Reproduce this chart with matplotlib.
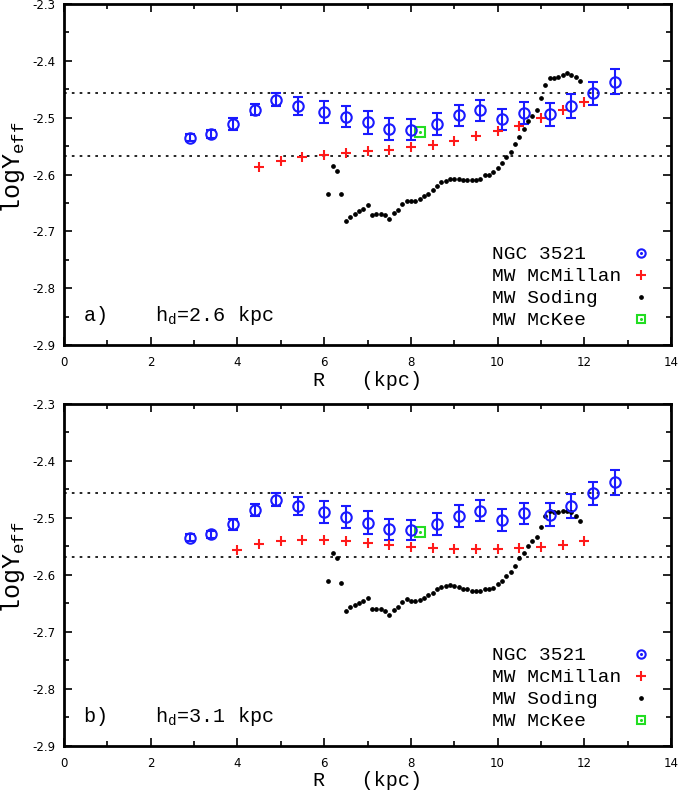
import numpy as np
import matplotlib
matplotlib.use('Agg')
import matplotlib.pyplot as plt

plt.rcParams['mathtext.fontset'] = 'custom'
plt.rcParams['mathtext.rm'] = 'Liberation Mono'
plt.rcParams['axes.unicode_minus'] = False

## Datos de NGC 3521 (iguales en los dos paneles)
r_ngc = [2.9, 3.4, 3.9, 4.4, 4.9, 5.4, 6.0, 6.5, 7.0, 7.5,
         8.0, 8.6, 9.1, 9.6, 10.1, 10.6, 11.2, 11.7, 12.2, 12.7]
y_ngc = [-2.535, -2.529, -2.511, -2.486, -2.468, -2.479, -2.490, -2.498, -2.508, -2.520,
         -2.521, -2.511, -2.496, -2.487, -2.503, -2.492, -2.494, -2.479, -2.457, -2.437]
e_ngc = [0.006, 0.007, 0.010, 0.010, 0.011, 0.016, 0.019, 0.019, 0.020, 0.019,
         0.018, 0.019, 0.019, 0.019, 0.019, 0.019, 0.020, 0.021, 0.020, 0.022]

# MW McKee
r_mckee = [8.2]
y_mckee = [-2.525]

# MW McMillan, panel a) y b)
r_mcm_a = [4.5, 5.0, 5.5, 6.0, 6.5, 7.0, 7.5, 8.0, 8.5, 9.0, 9.5, 10.0, 10.5, 11.0, 11.5, 12.0]
y_mcm_a = [-2.587, -2.577, -2.570, -2.565, -2.562, -2.559, -2.556, -2.552, -2.548, -2.541,
           -2.533, -2.524, -2.514, -2.501, -2.487, -2.472]
r_mcm_b = [4.0, 4.5, 5.0, 5.5, 6.0, 6.5, 7.0, 7.5, 8.0, 8.5, 9.0, 9.5, 10.0, 10.5, 11.0, 11.5, 12.0]
y_mcm_b = [-2.557, -2.546, -2.540, -2.538, -2.538, -2.541, -2.544, -2.547, -2.551, -2.553,
           -2.554, -2.554, -2.554, -2.552, -2.551, -2.547, -2.541]

# MW Soding, panel a) y b)
r_sod = [6.1, 6.2, 6.3, 6.4, 6.5, 6.6, 6.7, 6.8, 6.9, 7.0,
         7.1, 7.2, 7.3, 7.4, 7.5, 7.6, 7.7, 7.8, 7.9, 8.0,
         8.1, 8.2, 8.3, 8.4, 8.5, 8.6, 8.7, 8.8, 8.9, 9.0,
         9.1, 9.2, 9.3, 9.4, 9.5, 9.6, 9.7, 9.8, 9.9, 10.0,
         10.1, 10.2, 10.3, 10.4, 10.5, 10.6, 10.7, 10.8, 10.9, 11.0,
         11.1, 11.2, 11.3, 11.4, 11.5, 11.6, 11.7, 11.8, 11.9]
y_sod_a = [-2.635, -2.585, -2.594, -2.635, -2.681, -2.675, -2.670, -2.665, -2.661, -2.654,
           -2.672, -2.670, -2.670, -2.671, -2.678, -2.667, -2.662, -2.652, -2.647, -2.647,
           -2.647, -2.643, -2.638, -2.634, -2.628, -2.620, -2.614, -2.611, -2.608, -2.608,
           -2.608, -2.610, -2.610, -2.610, -2.610, -2.608, -2.601, -2.601, -2.596, -2.588,
           -2.579, -2.570, -2.560, -2.547, -2.534, -2.520, -2.506, -2.497, -2.487, -2.465,
           -2.443, -2.431, -2.431, -2.429, -2.425, -2.422, -2.424, -2.428, -2.435]
y_sod_b = [-2.611, -2.561, -2.570, -2.614, -2.663, -2.657, -2.653, -2.649, -2.646, -2.640,
           -2.659, -2.659, -2.659, -2.663, -2.670, -2.661, -2.656, -2.648, -2.643, -2.645,
           -2.645, -2.644, -2.640, -2.635, -2.632, -2.625, -2.621, -2.619, -2.618, -2.619,
           -2.621, -2.624, -2.625, -2.628, -2.628, -2.628, -2.624, -2.625, -2.622, -2.616,
           -2.610, -2.601, -2.594, -2.584, -2.571, -2.561, -2.550, -2.540, -2.534, -2.516,
           -2.496, -2.488, -2.490, -2.490, -2.488, -2.487, -2.490, -2.496, -2.505]

# Lineas punteadas horizontales
y_lineas = [-2.456, -2.568]

nombres = ['NGC 3521', 'MW McMillan', 'MW Soding', 'MW McKee']
etiquetas = [r'a)    $\mathrm{h}_\mathrm{d}$=2.6 kpc', r'b)    $\mathrm{h}_\mathrm{d}$=3.1 kpc']

AZUL = '#1a1aff'
ROJO = '#ff1a1a'
VERDE = '#22dd22'
MONO = 'Liberation Mono'


# Dibuja la leyenda con el texto alineado a la izquierda y el simbolo a la derecha.
def leyenda(ax):
    filas = [0.269, 0.205, 0.141, 0.077]
    xt, xm = 0.7046, 0.950
    estilos = [dict(marker='o', ms=6, mfc='none', mec=AZUL, mew=1.5),
               dict(marker='+', ms=7, mec=ROJO, mew=1.5),
               dict(marker='o', ms=2.4, mfc='k', mec='k'),
               dict(marker='s', ms=6, mfc='none', mec=VERDE, mew=1.5)]
    for nombre, fy, est in zip(nombres, filas, estilos):
        ax.text(xt, fy - 0.018, nombre, transform=ax.transAxes, fontsize=14,
                fontfamily=MONO, ha='left', va='baseline')
        ax.plot([xm], [fy], transform=ax.transAxes, ls='none', clip_on=False, **est)
    for fy, c in [(filas[0], AZUL), (filas[3], VERDE)]:
        ax.plot([xm], [fy], transform=ax.transAxes, ls='none', marker='o', ms=1.2,
                mfc=c, mec=c)


def panel(ax, r_mcm, y_mcm, y_sod, etiqueta):
    for yl in y_lineas:
        ax.axhline(yl, color='k', lw=1.2, ls=(0, (1.6, 3.1)))
    ax.errorbar(r_ngc, y_ngc, yerr=e_ngc, fmt='o', ms=7.5, mfc='none', mec=AZUL,
                mew=1.5, ecolor=AZUL, elinewidth=1.5, capsize=3.5, capthick=1.5)
    ax.plot(r_mcm, y_mcm, ls='none', marker='+', ms=7, mec=ROJO, mew=1.5)
    ax.plot(r_sod, y_sod, ls='none', marker='o', ms=2.4, mfc='k', mec='k')
    ax.plot(r_mckee, y_mckee, ls='none', marker='s', ms=6.5, mfc='none', mec=VERDE, mew=1.5)
    ax.plot(r_mckee, y_mckee, ls='none', marker='o', ms=1.2, mfc=VERDE, mec=VERDE)

    ax.set_xlim(0, 14)
    ax.set_ylim(-2.9, -2.3)
    ax.set_xticks(np.arange(0, 15, 2))
    ax.set_xticks(np.arange(1, 14, 2), minor=True)
    ax.set_yticks(np.arange(-2.9, -2.29, 0.1))
    ax.set_yticks(np.arange(-2.85, -2.3, 0.1), minor=True)
    ax.set_yticklabels(['%.1f' % v for v in np.arange(-2.9, -2.29, 0.1)])
    ax.tick_params(which='both', direction='in', top=True, right=True, width=1.2,
                   labelsize=8.5, colors='k')
    ax.tick_params(which='major', length=6)
    ax.tick_params(which='minor', length=3.5)
    ax.tick_params(axis='x', pad=8)
    ax.tick_params(axis='y', pad=6)
    for s in ax.spines.values():
        s.set_linewidth(2.0)
    ax.set_xlabel('R   (kpc)', fontfamily=MONO, fontsize=14.5, labelpad=1)
    ax.text(0.031, 0.071, etiqueta, transform=ax.transAxes, fontsize=14.5,
            fontfamily=MONO, ha='left', va='baseline')
    leyenda(ax)


fig = plt.figure(figsize=(6.78, 7.93), dpi=100)
ax1 = fig.add_axes([0.0944, 0.5649, 0.8953, 0.4300])
ax2 = fig.add_axes([0.0944, 0.0593, 0.8953, 0.4313])

panel(ax1, r_mcm_a, y_mcm_a, y_sod_a, etiquetas[0])
panel(ax2, r_mcm_b, y_mcm_b, y_sod_b, etiquetas[1])

for ycen in [1 - 168 / 793, 1 - 568 / 793]:
    fig.text(13 / 678, ycen, r'$\mathrm{logY}_\mathrm{eff}$', rotation=90,
             ha='center', va='center', fontsize=18)

fig.savefig('out.png', dpi=100)
